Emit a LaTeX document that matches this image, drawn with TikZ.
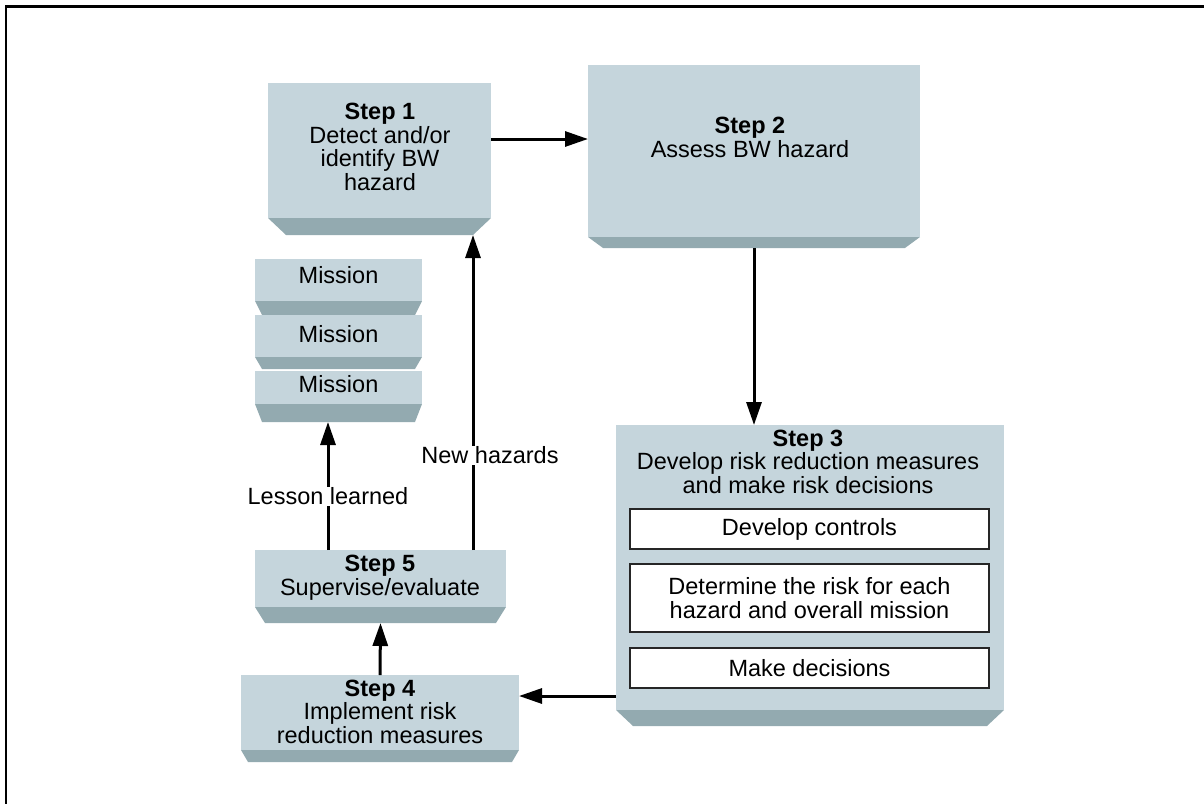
\documentclass[tikz,border=0pt]{standalone}
\usepackage{fontspec}
\setmainfont{Liberation Sans}
\usetikzlibrary{arrows.meta,calc}
\definecolor{boxlight}{HTML}{C5D5DC}
\definecolor{boxdark}{HTML}{93AAB0}
\tikzset{
  box/.style={fill=boxlight, draw=none, inner sep=0pt, outer sep=0pt},
  bevel/.style={fill=boxdark},
  txt/.style={font=\fontsize{23.5}{23.4}\selectfont, align=center, inner sep=0pt},
  conn/.style={line width=3pt, -{Triangle[length=23pt,width=15pt]}},
  lab/.style={font=\fontsize{23.5}{23.4}\selectfont, fill=white, inner sep=1pt},
  sub/.style={draw=black!85, line width=1.3pt, fill=white, inner sep=0pt, outer sep=0pt,
              font=\fontsize{23.5}{23.4}\selectfont, align=center},
  frame/.style={line width=2.5pt}
}
\newcommand\bevbox[7]{%
  \node[box, minimum width={(#4)-(#2)}, minimum height={(#5)-(#3)}] (#1) at ({((#2)+(#4))/2},{((#3)+(#5))/2}) {};
  \fill[bevel] (#1.south west) -- (#1.south east) -- ++({-(#7)},{(#6)-(#5)}) -- ($(#1.south west)+({#7},{(#6)-(#5)})$) -- cycle;
  \coordinate (#1b) at ({((#2)+(#4))/2},#6);
}
\begin{document}
\begin{tikzpicture}[x=1pt,y=-1pt]
\useasboundingbox (0,0) rectangle (1204,803);
\draw[frame] (6,805) -- (6,6.7) -- (1206,6.7);

% boxes: name, x1, ytop, x2, ylight, ybevel, inset
\bevbox{s1}{268}{83}{491}{218}{235}{18}
\bevbox{s2}{588}{65}{920}{237}{248}{15}
\bevbox{m1}{255}{259}{422}{301}{315}{7}
\bevbox{m2}{255}{315}{422}{357}{369}{7}
\bevbox{m3}{255}{371}{422}{404}{422}{7}
\bevbox{s3}{616}{425}{1004}{710}{726}{17}
\bevbox{s5}{255}{550}{506}{607}{623}{10}
\bevbox{s4}{241}{675}{519}{750}{762}{7}

% texts (anchor base = last line baseline)
\node[txt, anchor=base] (s1t) at (380,190) {\textbf{Step 1}\\Detect and/or\\identify BW\\hazard};
\node[txt, anchor=base] (s2t) at (750,157) {\textbf{Step 2}\\Assess BW hazard};
\node[txt, anchor=base] (s3t) at (808,493) {\textbf{Step 3}\\Develop risk reduction measures\\and make risk decisions};
\node[txt, anchor=base] (s5t) at (380,595) {\textbf{Step 5}\\Supervise/evaluate};
\node[txt, anchor=base] (s4t) at (380,743) {\textbf{Step 4}\\Implement risk\\reduction measures};
\node[txt, anchor=base] (m1t) at (338.5,283) {Mission};
\node[txt, anchor=base] (m2t) at (338.5,342) {Mission};
\node[txt, anchor=base] (m3t) at (338.5,392) {Mission};

% inner boxes of step 3
\node[sub, minimum width=359, minimum height=40] (d1) at (809.5,529) {Develop controls};
\node[sub, minimum width=359, minimum height=68] (d2) at (809.5,598) {Determine the risk for each\\hazard and overall mission};
\node[sub, minimum width=359, minimum height=40] (d3) at (809.5,668) {Make decisions};

% connectors
\draw[conn] (s1.east |- 0,139) -- (s2.west |- 0,139);
\draw[conn] (s2b) -- (s2b |- s3.north);
\draw[conn] (s3.west |- 0,696) -- (s4.east |- 0,696);
\draw[conn] (s4.north) -- (s5b);
\draw[conn] (s5.north -| 328,0) -- (m3b -| 328,0) node[lab, pos=0.42] {Lesson learned};
\draw[conn] (s5.north -| 473,0) -- (s1b -| 473,0) node[lab, pos=0.30, xshift=17pt] {New hazards};
\end{tikzpicture}
\end{document}
